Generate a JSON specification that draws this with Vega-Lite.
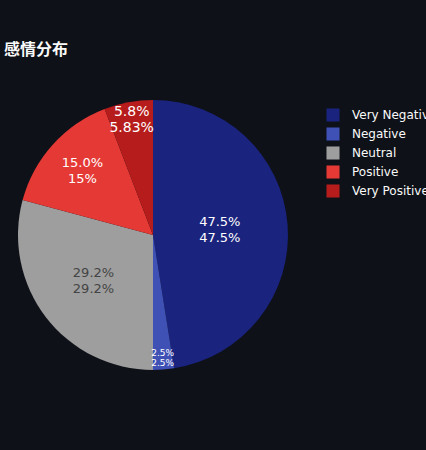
{
  "$schema": "https://vega.github.io/schema/vega-lite/v6.json",
  "autosize": {"type": "none"},
  "width": 306,
  "height": 270,
  "padding": {"left": 0, "top": 100, "right": 120, "bottom": 80},
  "background": "#0e1117",
  "title": {
    "text": "感情分布",
    "anchor": "start",
    "frame": "group",
    "font": "Noto Sans CJK SC",
    "fontSize": 16,
    "fontWeight": "bold",
    "color": "#fafafa",
    "dx": 4,
    "offset": 42
  },
  "data": {
    "values": [
      {"sentiment": "Very Negative", "count": 57, "rank": 1},
      {"sentiment": "Negative", "count": 3, "rank": 2},
      {"sentiment": "Neutral", "count": 35, "rank": 3},
      {"sentiment": "Positive", "count": 18, "rank": 4},
      {"sentiment": "Very Positive", "count": 7, "rank": 5}
    ]
  },
  "transform": [
    {"stack": "count", "groupby": [], "sort": [{"field": "rank"}], "offset": "normalize", "as": ["start", "end"]},
    {"calculate": "(datum.start + datum.end) / 2", "as": "mid"},
    {"calculate": "format(datum.end - datum.start, '.1%') + '\\n' + format(datum.end - datum.start, '.3~p')", "as": "label"}
  ],
  "layer": [
    {
      "mark": {"type": "arc", "outerRadius": 135},
      "encoding": {
        "theta": {"field": "start", "type": "quantitative", "scale": {"domain": [0, 1]}},
        "theta2": {"field": "end"},
        "color": {
          "field": "sentiment",
          "type": "nominal",
          "title": null,
          "sort": ["Very Negative", "Negative", "Neutral", "Positive", "Very Positive"],
          "scale": {
            "domain": ["Very Negative", "Negative", "Neutral", "Positive", "Very Positive"],
            "range": ["#1a237e", "#3f51b5", "#9e9e9e", "#e53935", "#b71c1c"]
          },
          "legend": {
            "orient": "none",
            "legendX": 326,
            "legendY": 8,
            "symbolType": "square",
            "symbolSize": 170,
            "symbolStrokeWidth": 0,
            "labelFont": "DejaVu Sans",
            "labelFontSize": 12,
            "labelColor": "#fafafa",
            "labelLimit": 300,
            "labelOffset": 12,
            "rowPadding": 5
          }
        }
      }
    },
    {
      "transform": [{"filter": "datum.sentiment == 'Very Negative'"}],
      "mark": {"type": "text", "radius": 67, "dy": -8, "font": "DejaVu Sans", "fontSize": 13, "color": "#ffffff", "lineBreak": "\n", "lineHeight": 16, "baseline": "middle"},
      "encoding": {"theta": {"field": "mid", "type": "quantitative"}, "text": {"field": "label"}}
    },
    {
      "transform": [{"filter": "datum.sentiment == 'Negative'"}],
      "mark": {"type": "text", "radius": 123, "dy": -5, "font": "DejaVu Sans", "fontSize": 9, "color": "#ffffff", "lineBreak": "\n", "lineHeight": 10, "baseline": "middle"},
      "encoding": {"theta": {"field": "mid", "type": "quantitative"}, "text": {"field": "label"}}
    },
    {
      "transform": [{"filter": "datum.sentiment == 'Neutral'"}],
      "mark": {"type": "text", "radius": 75, "dy": -8, "font": "DejaVu Sans", "fontSize": 13, "color": "#444444", "lineBreak": "\n", "lineHeight": 16, "baseline": "middle"},
      "encoding": {"theta": {"field": "mid", "type": "quantitative"}, "text": {"field": "label"}}
    },
    {
      "transform": [{"filter": "datum.sentiment == 'Positive'"}],
      "mark": {"type": "text", "radius": 95, "dy": -8, "font": "DejaVu Sans", "fontSize": 13, "color": "#ffffff", "lineBreak": "\n", "lineHeight": 16, "baseline": "middle"},
      "encoding": {"theta": {"field": "mid", "type": "quantitative"}, "text": {"field": "label"}}
    },
    {
      "transform": [{"filter": "datum.sentiment == 'Very Positive'"}],
      "mark": {"type": "text", "radius": 117, "dy": -8, "font": "DejaVu Sans", "fontSize": 14, "color": "#ffffff", "lineBreak": "\n", "lineHeight": 16, "baseline": "middle"},
      "encoding": {"theta": {"field": "mid", "type": "quantitative"}, "text": {"field": "label"}}
    }
  ],
  "view": {"stroke": null}
}
